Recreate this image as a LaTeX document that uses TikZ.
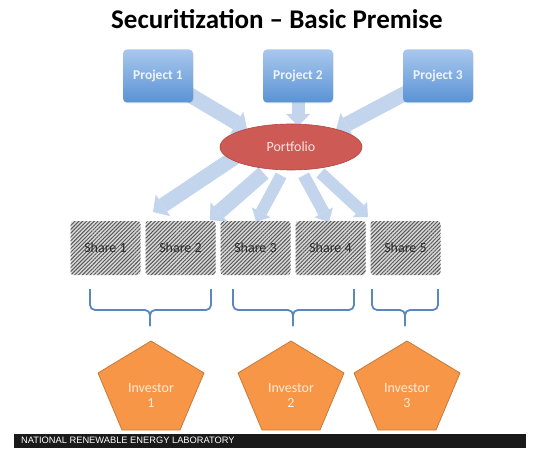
\documentclass[tikz,border=0pt]{standalone}
\usepackage{fontspec}
\setmainfont{Carlito}
\newfontfamily\nrelfont{Liberation Sans}
\usetikzlibrary{arrows.meta,positioning,shapes.geometric,patterns.meta,shadows,backgrounds}
\definecolor{projtop}{HTML}{A9C8EE}
\definecolor{projbot}{HTML}{5A93D4}
\definecolor{projtext}{HTML}{EEF4FC}
\definecolor{portfill}{HTML}{CD5A54}
\definecolor{portline}{HTML}{B04843}
\definecolor{porttext}{HTML}{F9E2E0}
\definecolor{sharebg}{HTML}{D9D9D9}
\definecolor{sharehatch}{HTML}{555555}
\definecolor{sharetext}{HTML}{2A2A2A}
\definecolor{arrowblue}{HTML}{C2D5ED}
\definecolor{braceblue}{HTML}{5A87BF}
\definecolor{invfill}{HTML}{F79646}
\definecolor{invline}{HTML}{C67A3C}
\definecolor{invword}{HTML}{FDEBDD}
\definecolor{barblack}{HTML}{1A1A1A}

\begin{document}
\begin{tikzpicture}[x=1pt,y=-1pt,
    headline/.style={font=\fontsize{27}{30}\selectfont\bfseries,inner sep=0pt,anchor=base},
    project/.style={rounded corners=4pt,minimum width=70pt,minimum height=53pt,
      top color=projtop,bottom color=projbot,text=projtext,
      font=\fontsize{13.5}{16}\selectfont\bfseries,
      drop shadow={opacity=0.2,shadow xshift=0.6pt,shadow yshift=-0.8pt}},
    portfolio/.style={ellipse,minimum width=142pt,minimum height=46pt,inner sep=0pt,
      fill=portfill,draw=portline,line width=0.6pt,text=porttext,
      font=\fontsize{14}{16}\selectfont},
    share/.style={rounded corners=3pt,minimum width=70pt,minimum height=54pt,
      preaction={fill=sharebg},
      pattern={Lines[angle=45,distance=2.7pt,line width=0.95pt]},pattern color=sharehatch,
      text=sharetext,font=\fontsize{14}{16}\selectfont},
    fatarrow/.style={draw=arrowblue,line width=15pt,
      -{Triangle[width=26pt,length=12pt,line width=0pt]}},
    thinarrow/.style={draw=arrowblue,line width=12pt,
      -{Triangle[width=21pt,length=11pt,line width=0pt]}},
    grouping/.style={draw=braceblue,line width=1.8pt,rounded corners=5pt},
    invshape/.style={fill=invfill,draw=invline,line width=0.8pt,line join=round},
    invtext/.style={text=invword,align=center,font=\fontsize{14}{15}\selectfont},
    footer/.style={text=white,inner sep=0pt,anchor=west,font=\nrelfont\fontsize{9.3}{10}\selectfont}
  ]
  \useasboundingbox (0,0) rectangle (540,449);
  \node[headline] (ttl) at (277,29) {Securitization – Basic Premise};

  % projects, portfolio, shares
  \foreach \i in {1,2,3}
    \node[project] (p\i) at ({18+140*\i},76) {Project \i};
  \node[portfolio] (port) at (291,147) {Portfolio};
  \foreach \i in {1,...,5}
    \node[share] (s\i) at ({30.5+75*\i},248) {Share \i};

  % block arrows, kept behind the shapes
  \coordinate (in1) at (247,129);
  \coordinate (in2) at (298,126);
  \coordinate (in3) at (336,130);
  \begin{scope}[on background layer]
    \draw[fatarrow] (p1.center) -- (in1);
    \draw[fatarrow,line width=13pt,-{Triangle[width=24pt,length=12pt,line width=0pt]}] (p2.center) -- (in2);
    \draw[fatarrow] (p3.center) -- (in3);
    \foreach \a/\g/\tx/\ty in {192/-6/153/212, 224/6/210/220}
      \draw[fatarrow,shorten <=\g pt] (port.\a) -- (\tx,\ty);
    \foreach \a/\tx/\ty in {253/256/222, 293/329/222, 319/368/217}
      \draw[thinarrow,shorten <=6pt] (port.\a) -- (\tx,\ty);
  \end{scope}

  % braces grouping the shares
  \foreach \l/\m/\r in {90/150/211, 233/293/354, 372/405/438} {
    \draw[grouping] (\l,289) -- (\l,310) -- (\m,310) -- (\m,326);
    \draw[grouping] (\r,289) -- (\r,310) -- (\m,310) -- (\m,326);
  }

  % investors
  \foreach \i/\x in {1/151,2/291,3/407} {
    \draw[invshape] (\x,341) -- ({\x+53},373) -- ({\x+29},430) -- ({\x-29},430) -- ({\x-53},373) -- cycle;
    \node[invtext] (inv\i) at (\x,396) {Investor\\\i};
  }

  % footer bar
  \fill[barblack] (14,434) rectangle (526,448);
  \node[footer] (nrel) at (21,440) {NATIONAL RENEWABLE ENERGY LABORATORY};
\end{tikzpicture}
\end{document}
